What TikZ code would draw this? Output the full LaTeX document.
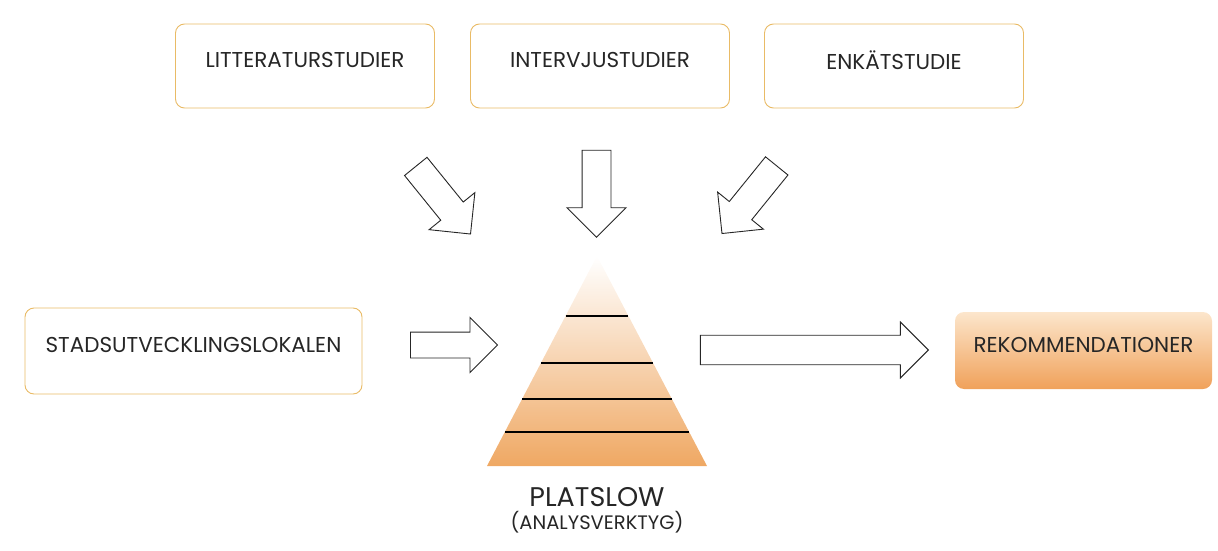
\documentclass[tikz,border=0pt]{standalone}
\usepackage{fontspec}
\setmainfont{Poppins}
\usetikzlibrary{shapes.arrows}
\definecolor{boxline}{HTML}{E9BB66}
\definecolor{pyrorange}{HTML}{EFA863}
\definecolor{pyrmid}{HTML}{F4C595}
\definecolor{reklight}{HTML}{FCE6CC}
\definecolor{rekorange}{HTML}{F0A15A}
\begin{document}
\begin{tikzpicture}[x=1pt, y=-1pt,
  every node/.style = {align=center, text=black!85, font=\fontsize{21.5}{25}\selectfont},
  studybox/.style = {draw=boxline, line width=0.9pt, rounded corners=9pt,
    minimum width=259pt, minimum height=84pt, text depth=12pt},
  blockarrow/.style = {single arrow, draw=black!85, line width=0.9pt, fill=white,
    inner xsep=0pt, inner ysep=14pt, single arrow head extend=15pt}]
  \useasboundingbox (0,0) rectangle (1218,551);
  % inputs
  \node[studybox] (lit) at (305,66) {LITTERATURSTUDIER};
  \node[studybox] (intv) at (600,66) {INTERVJUSTUDIER};
  \node[studybox] (enk) at (894,66) {ENKÄTSTUDIE};
  \node[studybox, minimum width=337pt, minimum height=86pt] (stad) at (193.5,351) {STADSUTVECKLINGSLOKALEN};
  \node[studybox, draw=none, top color=reklight, bottom color=rekorange,
    minimum width=257pt, minimum height=77pt] (rek) at (1083.5,350.5) {REKOMMENDATIONER};
  % arrows
  \node[blockarrow, minimum height=87pt, minimum width=58pt, rotate=-51] (al) at (438.6,194.6) {};
  \node[blockarrow, minimum height=87pt, minimum width=58pt, rotate=-90] (am) at (596.5,186.5) {};
  \node[blockarrow, minimum height=87pt, minimum width=58pt, rotate=-129] (ar) at (753.9,194.1) {};
  \node[blockarrow, minimum height=87pt, minimum width=54pt, inner ysep=12.5pt,
    single arrow head extend=14.5pt] (ain) at (447.5,345) {};
  \node[blockarrow, minimum height=228pt, minimum width=56pt,
    single arrow head extend=13pt] (aout) at (807,350) {};
  % pyramid
  \coordinate (apex) at (597,256);
  \shade[top color=white, middle color=pyrmid, bottom color=pyrorange]
    (apex) -- (707,466) -- (487,466) -- cycle;
  \foreach \y in {316,363,399,432} {
    \pgfmathsetmacro\hw{110-(466-\y)*0.524}
    \draw[line width=1.1pt] ({597-\hw},\y) -- ({597+\hw},\y);
  }
  \node[font=\fontsize{27}{30}\selectfont] (plat) at (597,497) {PLATSLOW};
  \node[font=\fontsize{19.5}{22}\selectfont] (ana) at (597,522) {(ANALYSVERKTYG)};
\end{tikzpicture}
\end{document}
